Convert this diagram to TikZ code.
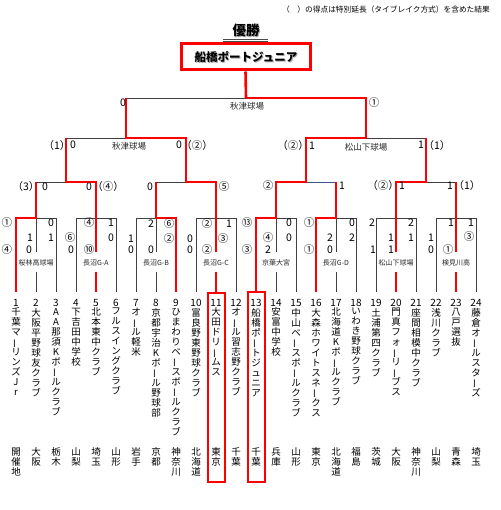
\documentclass[tikz,border=0pt]{standalone}
\usepackage{fontspec}
\setmainfont{Noto Sans CJK JP}
\usetikzlibrary{positioning}

% vertical text: one character per line
\makeatletter
\def\vnA#1{\ifx\relax#1\else\hbox to 10pt{\hss\vchar{#1}\hss}\expandafter\vnA\fi}
\def\vchar#1{\ifx ー#1\rotatebox[origin=c]{90}{ー}\else #1\fi}
\newcommand\vname[1]{\edef\vntmp{#1}\vbox{\baselineskip=10pt\lineskiplimit=-100pt\lineskip=0pt\expandafter\vnA\vntmp\relax}}
\makeatother

\begin{document}
\begin{tikzpicture}[x=1pt, y=-1pt,
  wire/.style={draw=black!75, line width=0.9pt},
  win/.style={draw=red, line width=2.6pt},
  score/.style={font=\fontsize{10.5}{10.5}\selectfont, inner sep=0pt},
  venue/.style={font=\fontsize{8.5}{8.5}\selectfont, inner sep=0pt, text=black!85},
  glabel/.style={font=\fontsize{7}{7}\selectfont, inner sep=0pt, text=black!85},
  num/.style={font=\fontsize{10}{10}\selectfont, inner sep=0pt},
  tname/.style={font=\fontsize{9.5}{10}\selectfont, inner sep=0pt, anchor=north}
]
\useasboundingbox[fill=white] (0,0) rectangle (500,510);

% Header
\node[font=\fontsize{7.7}{7.7}\selectfont, anchor=east, inner sep=0pt] (note) at (490,10) {（　）の得点は特別延長（タイブレイク方式）を含めた結果};
\node[font=\fontsize{13.5}{13.5}\selectfont\bfseries, text=black!35] (winshadow) at (247,31) {優勝};
\node[font=\fontsize{13.5}{13.5}\selectfont\bfseries] (wintitle) at (246,30) {優勝};
\draw[black!70, line width=0.6pt] (223,39.3) -- (268,39.3) (223,41.5) -- (268,41.5);

% Champion
\node[draw=red, line width=3pt, minimum width=129pt, minimum height=26pt, inner sep=0pt] (champ) at (245.5,57) {};
\node[font=\fontsize{11.5}{11.5}\selectfont\bfseries, text=black!35] (champshadow) at (247,58.2) {船橋ポートジュニア};
\node[font=\fontsize{11.5}{11.5}\selectfont\bfseries] (champtext) at (246,57) {船橋ポートジュニア};
\coordinate (final) at (246,98);

% Groups of three
\foreach \g in {1,...,8} {
  \pgfmathsetmacro\L{16+60*(\g-1)}
  \pgfmathsetmacro\M{\L+20}
  \pgfmathsetmacro\R{\L+40}
  \draw[wire] (\L,292) -- (\L,218) -- (\R,218) -- (\R,292);
  \draw[wire] (\M,182) -- (\M,252) (\M,272) -- (\M,292);
}

% Rounds
\foreach \p in {1,...,4} {
  \pgfmathsetmacro\a{36+120*(\p-1)}
  \pgfmathsetmacro\b{\a+60}
  \pgfmathsetmacro\c{\a+30}
  \draw[wire] (\a,182) -- (\b,182) (\c,182) -- (\c,138);
}
\draw[wire] (66,182) -- (66,138) -- (186,138) -- (186,182) (126,138) -- (126,98);
\draw[draw={rgb,255:red,60;green,90;blue,140}, line width=0.9pt] (306,182) -- (336,182);
\draw[wire] (306,182) -- (306,138) -- (426,138) -- (426,182) (366,138) -- (366,98);
\draw[wire] (126,98) -- (366,98);

% Winners
\draw[win] (16,292) -- (16,218) -- (36,218) -- (36,182);
\draw[win] (96,292) -- (96,272) (96,252) -- (96,182) -- (66,182) -- (66,138);
\draw[win] (176,292) -- (176,218) -- (156,218) -- (156,182);
\draw[win] (216,293) -- (216,272) (216,252) -- (216,182) -- (186,182) -- (186,138) -- (126,138) -- (126,98);
\draw[win] (256,292) -- (256,218) -- (276,218) -- (276,182) -- (306,182) -- (306,138) -- (366,138) -- (366,98) -- (final);
\draw[win] (final) -- (champ.south);
\draw[win] (316,292) -- (316,218) -- (336,218) -- (336,182);
\draw[win] (396,292) -- (396,272) (396,252) -- (396,182) -- (426,182) -- (426,138);
\draw[win] (456,292) -- (456,272) (456,252) -- (456,182);

% Venues
\node[venue] (v1) at (247,106) {秋津球場};
\node[venue] (v2) at (129,146) {秋津球場};
\node[venue] (v3) at (366,147) {松山下球場};
\foreach \m/\v [count=\k] in {36/桜林高球場, 96/長沼G-A, 156/長沼G-B, 216/長沼G-C,
    276/京葉大宮, 336/長沼G-D, 396/松山下球場, 456/検見川高}
  \node[glabel] (gv\k) at (\m,262.5) {\v};

% Scores
\foreach \x/\y/\s [count=\k] in {
  123/103/0, 374/103/①,
  57/146/（1）, 73/145/0, 179/145/0, 197/146/（②）,
  293/146/（②）, 312/146/1, 421/145/1, 437/146/（1）,
  26/187/（3）, 45/187/0, 89/187/0, 108/187/（④）, 150/187/0, 224/187/⑤,
  268/186/②, 342/186/1, 383/186/（②）, 402/186/1, 450/186/1, 467/186/（1）,
  7/223/①, 51/223/0, 30/238/1, 51/238/1, 7/250/④, 29/250/0,
  89/223/④, 111/223/1, 70/238/⑥, 111/238/0, 71/250/0, 89/250/⑩,
  151/224/2, 169/224/⑥, 131/239/1, 169/239/②, 131/250/0, 151/250/0,
  207/224/②, 229/224/1, 190/239/0, 223/239/③, 190/250/0, 207/250/②,
  247/223/⑬, 289/223/0, 268/238/④, 289/238/0, 247/250/③, 268/250/2,
  309/223/①, 352/223/0, 330/238/2, 352/238/2, 309/250/①, 330/250/0,
  372/223/2, 411/223/2, 391/238/1, 411/238/1, 373/250/1, 391/250/1,
  451/223/1, 471/223/1, 431/238/1, 469/237/③, 431/250/0, 448/250/①}
  \node[score] (s\k) at (\x,\y) {\s};

% Teams
\foreach \i/\nm/\pf in {
  1/千葉マーリンズJr/開催地, 2/大阪平野球友クラブ/大阪, 3/AA那須Kボールクラブ/栃木,
  4/下吉田中学校/山梨, 5/北本東中クラブ/埼玉, 6/フルスイングクラブ/山形,
  7/オール軽米/岩手, 8/京都宇治Kボール野球部/京都, 9/ひまわりベースボールクラブ/神奈川,
  10/富良野東野球クラブ/北海道, 11/大田ドリームス/東京, 12/オール習志野クラブ/千葉,
  13/船橋ポートジュニア/千葉, 14/安富中学校/兵庫, 15/中山ベースボールクラブ/山形,
  16/大森ホワイトスネークス/東京, 17/北海道Kボールクラブ/北海道, 18/いわき野球クラブ/福島,
  19/土浦第四クラブ/茨城, 20/門真フォーリーブス/大阪, 21/座間相模中クラブ/神奈川,
  22/浅川クラブ/山梨, 23/八戸選抜/青森, 24/藤倉オールスターズ/埼玉} {
  \node[num] (n\i) at ({16+20*(\i-1)},303) {\i};
  \node[tname, below=1pt of n\i] (t\i) {\vname{\nm}};
  \node[tname] (p\i) at ({16+20*(\i-1)},447.5) {\vname{\pf}};
}
\draw[red, line width=1.1pt] (208,293) rectangle (225,482);
\draw[red, line width=2.8pt] (248,292) rectangle (265,482);

\end{tikzpicture}
\end{document}
